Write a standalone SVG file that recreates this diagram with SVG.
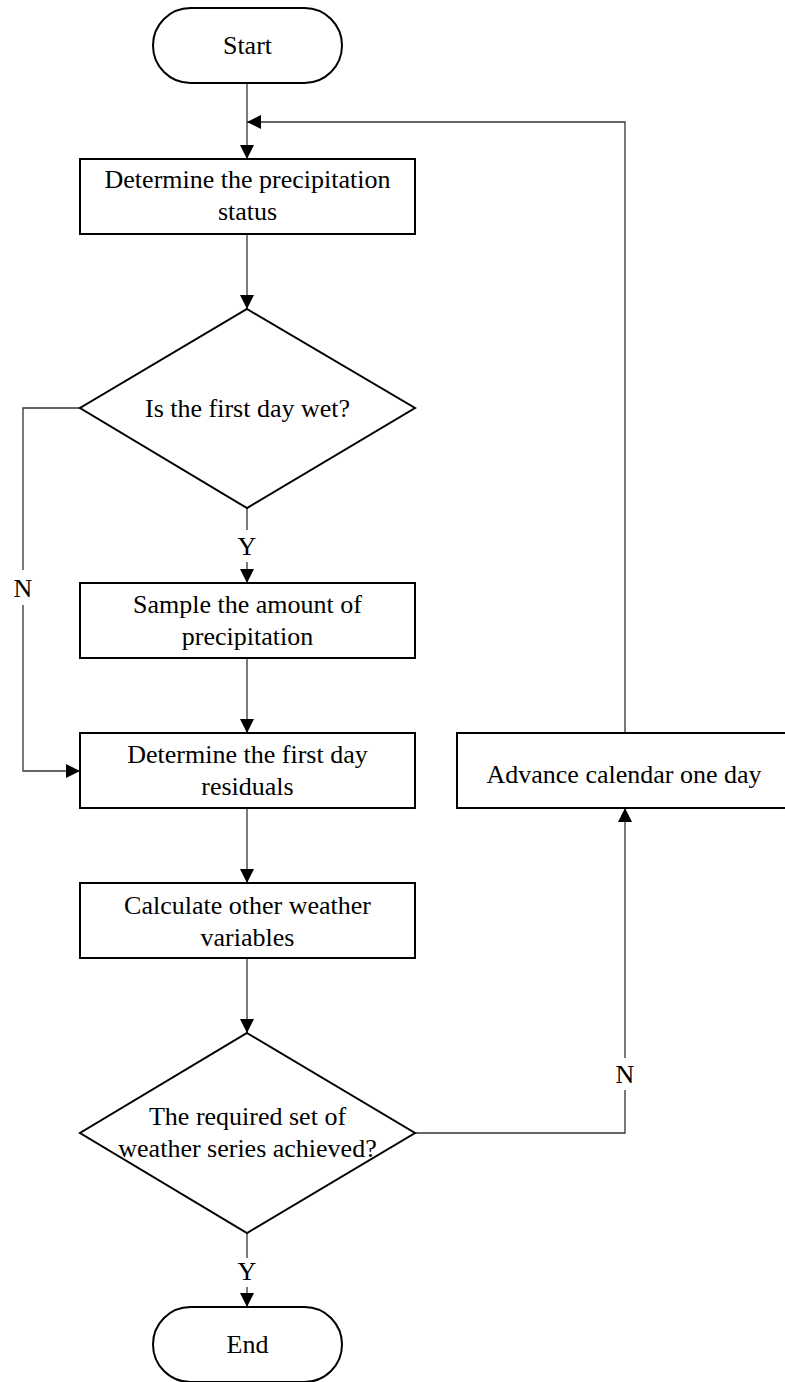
<svg xmlns="http://www.w3.org/2000/svg" width="785" height="1382" viewBox="0 0 785 1382">
<defs>
<style>
.shape{fill:#fff;stroke:#000;stroke-width:2}
.conn{fill:none;stroke:#333;stroke-width:1.3}
.t{font-family:"Liberation Serif","Times New Roman",serif;font-size:26px;fill:#000;text-anchor:middle}
</style>
<marker id="arr" markerUnits="userSpaceOnUse" markerWidth="14" markerHeight="14" refX="14" refY="7" orient="auto">
<path d="M0,0 L14,7 L0,14 Z" fill="#000"/>
</marker>
</defs>
<rect width="785" height="1382" fill="#fff"/>
<g id="connectors">
<path class="conn" d="M247,83 V159" marker-end="url(#arr)"/>
<path class="conn" d="M625,733 V122 H247" marker-end="url(#arr)"/>
<path class="conn" d="M247,234 V309" marker-end="url(#arr)"/>
<path class="conn" d="M247,508 V530"/>
<path class="conn" d="M247,562 V583" marker-end="url(#arr)"/>
<text class="t" x="247" y="555">Y</text>
<path class="conn" d="M80,408 H23 V570"/>
<path class="conn" d="M23,605 V771 H80" marker-end="url(#arr)"/>
<text class="t" x="23" y="597">N</text>
<path class="conn" d="M247,658 V733" marker-end="url(#arr)"/>
<path class="conn" d="M247,808 V883" marker-end="url(#arr)"/>
<path class="conn" d="M247,958 V1033" marker-end="url(#arr)"/>
<path class="conn" d="M247,1233 V1258"/>
<path class="conn" d="M247,1287 V1307" marker-end="url(#arr)"/>
<text class="t" x="247" y="1280">Y</text>
<path class="conn" d="M415,1133 H625 V1090"/>
<path class="conn" d="M625,1058 V808" marker-end="url(#arr)"/>
<text class="t" x="625" y="1083">N</text>
</g>
<g id="start">
<rect class="shape" x="153" y="8" width="189" height="75" rx="37.5" ry="37.5"/>
<text class="t" x="247.5" y="54">Start</text>
</g>
<g id="box1">
<rect class="shape" x="80" y="159" width="335" height="75"/>
<text class="t" x="247.5" y="188">Determine the precipitation</text>
<text class="t" x="247.5" y="220">status</text>
</g>
<g id="diamond1">
<polygon class="shape" points="247,309 415,408 247,508 80,408"/>
<text class="t" x="247.5" y="417">Is the first day wet?</text>
</g>
<g id="box2">
<rect class="shape" x="80" y="583" width="335" height="75"/>
<text class="t" x="247.5" y="613">Sample the amount of</text>
<text class="t" x="247.5" y="645">precipitation</text>
</g>
<g id="box3">
<rect class="shape" x="80" y="733" width="335" height="75"/>
<text class="t" x="247.5" y="763">Determine the first day</text>
<text class="t" x="247.5" y="795">residuals</text>
</g>
<g id="box4">
<rect class="shape" x="457" y="733" width="336" height="75"/>
<text class="t" x="624" y="783">Advance calendar one day</text>
</g>
<g id="box5">
<rect class="shape" x="80" y="883" width="335" height="75"/>
<text class="t" x="247.5" y="914">Calculate other weather</text>
<text class="t" x="247.5" y="946">variables</text>
</g>
<g id="diamond2">
<polygon class="shape" points="247,1033 415,1133 247,1233 80,1133"/>
<text class="t" x="247.5" y="1125">The required set of</text>
<text class="t" x="247.5" y="1157">weather series achieved?</text>
</g>
<g id="end">
<rect class="shape" x="153" y="1307" width="189" height="75" rx="37.5" ry="37.5"/>
<text class="t" x="247.5" y="1353">End</text>
</g>
</svg>
